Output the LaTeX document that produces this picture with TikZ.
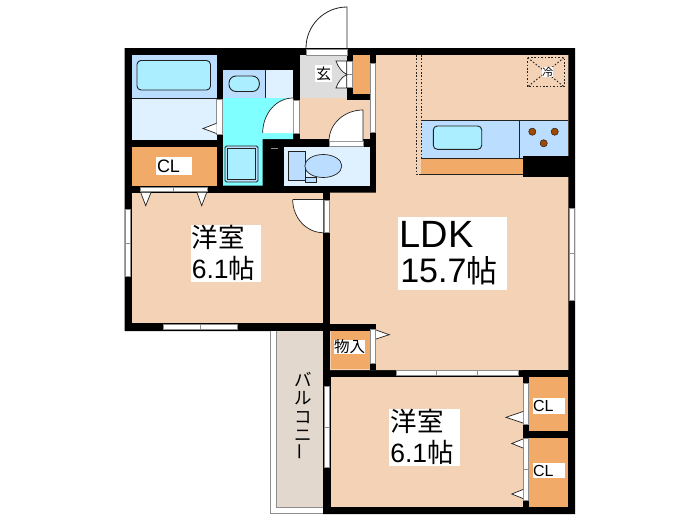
\documentclass[tikz,border=0pt]{standalone}
\usepackage{fontspec}
\usepackage{graphicx}
\setmainfont{Noto Sans CJK JP}
\newfontfamily\latinfont{Liberation Sans}
\definecolor{peach}{HTML}{F3D2B5}
\definecolor{closet}{HTML}{F2AA68}
\definecolor{wetcyan}{HTML}{7FFFFF}
\definecolor{paleblue}{HTML}{DFF0FF}
\definecolor{midblue}{HTML}{BBDDFF}
\definecolor{tubblue}{HTML}{AAEEFF}
\definecolor{entry}{HTML}{DDDDDD}
\definecolor{deck}{HTML}{E2D8CE}
\definecolor{frame}{HTML}{8C8C8C}
\definecolor{ink}{HTML}{222222}
\definecolor{burner}{HTML}{A04A00}
\tikzset{
  fixture/.style={draw=ink,line width=0.9pt},
  sash/.style={fill=white,draw=frame,line width=1pt},
  doorleaf/.style={fill=white,draw=ink,line width=0.7pt},
  tag/.style={fill=white,inner sep=0pt,text=black,align=left},
  dots/.style={draw=ink,line width=0.9pt,dash pattern=on 1.6pt off 1.8pt},
}
\begin{document}
\begin{tikzpicture}[x=1pt,y=-1pt]
\useasboundingbox (0,0) rectangle (700,525);
\fill[white] (0,0) rectangle (700,525);
% walls
\fill[black] (124.5,48) -- (575,48) -- (575,514) -- (323,514) -- (323,331) -- (124.5,331) -- cycle;
% balcony
\fill[white] (270,331) rectangle (323,514);
\draw[frame,line width=0.6pt] (270,331) -- (270,513.5) -- (323,513.5);
\fill[deck] (276.7,331) rectangle (323,507.3);
\draw[frame,line width=0.6pt] (276.7,331) -- (276.7,507.3) -- (323,507.3);
% bath
\fill[midblue] (132,55) rectangle (216.5,98);
\fill[paleblue] (132,98) rectangle (216.5,139.5);
\draw[ink,line width=0.5pt] (132,98) -- (216.5,98);
\draw[fixture,fill=tubblue,rounded corners=4pt] (137,60.5) rectangle (210.5,90);
% closet
\fill[closet] (132,146.7) rectangle (216.5,185.7);
% washroom
\fill[midblue] (223,70) rectangle (265.7,98);
\fill[paleblue] (265.7,70) rectangle (293,98);
\draw[ink,line width=0.6pt] (265.7,70) -- (265.7,98);
\draw[fixture,fill=tubblue,rounded corners=7pt] (229,76) rectangle (259.3,91.5);
\fill[wetcyan] (223,98) -- (293,98) -- (293,139) -- (262.7,139) -- (262.7,185.7) -- (223,185.7) -- cycle;
\draw[fixture,fill=midblue,rounded corners=1.5pt] (225,146) rectangle (258,182);
\draw[ink,line width=0.7pt,fill=tubblue] (227.5,148.5) rectangle (255.5,179.5);
% hall and entry
\fill[entry] (300,55) rectangle (347,97.5);
\fill[peach] (300,97.5) rectangle (346.7,139);
\fill[peach] (346.7,100) rectangle (370,139);
\fill[black] (363,140) rectangle (370,147);
% toilet
\fill[paleblue] (284.3,146.7) rectangle (370,185.7);
\draw[ink,line width=0.7pt,fill=midblue] (288.3,151.7) rectangle (305,180.7);
\draw[ink,line width=0.7pt,fill=midblue] (305.7,177.7) rectangle (316,182.7);
\draw[ink,line width=0.7pt,fill=midblue] (323.3,166) ellipse [x radius=18.5,y radius=11.5];
\fill[frame] (271,147.5) rectangle (278,148.5);
% bedroom 1
\fill[peach] (132,192.7) rectangle (323.3,323.3);
% LDK
\fill[peach] (376,55) -- (568.3,55) -- (568.3,370) -- (330,370) -- (330,192.7) -- (376,192.7) -- cycle;
% storage
\fill[black] (323,324) rectangle (376,330.7);
\fill[black] (370,330) rectangle (376,370);
\fill[closet] (330.7,330.7) rectangle (370,369.3);
% bedroom 2 and closets
\fill[peach] (330.7,376.7) rectangle (522.7,507.3);
\fill[closet] (529.3,376.7) rectangle (568.3,430.7);
\fill[closet] (529.3,438.3) rectangle (568.3,507.3);
\fill[black] (522.7,370) rectangle (575,376.7);
% shoe closet
\fill[closet] (353.3,55) rectangle (370,94);
% kitchen
\fill[midblue] (421,120) rectangle (568.3,158);
\draw[ink,line width=0.8pt] (421,120) -- (568.3,120);
\draw[ink,line width=0.8pt] (421,158) -- (523,158);
\draw[ink,line width=0.8pt] (519,120) -- (519,158);
\draw[fixture,fill=tubblue,rounded corners=4pt] (433.3,126) rectangle (481.7,149.3);
\foreach \bx/\by [count=\bi] in {532.3/131.7,554.7/131.7,543.7/143.3}
  \draw[ink,line width=0.5pt,fill=burner] (\bx,\by) circle (3.6);
\fill[closet] (421,159) rectangle (523,174);
\draw[ink,line width=0.8pt] (421,174) -- (523,174);
\fill[black] (522.7,155.7) rectangle (570,177.3);
\draw[dots] (416,55) -- (416,174) -- (421,174);
\draw[dots] (421.7,55) -- (421.7,159);
% fridge
\draw[dots] (527.7,57.7) rectangle (564,86.7);
\draw[dots] (527.7,57.7) -- (564,86.7);
\draw[dots] (564,57.7) -- (527.7,86.7);
\node[tag,font=\fontsize{11}{11}\selectfont] (reizo) at (547.5,72) {冷};
% windows and door sashes
\draw[sash] (306,49.6) rectangle (347,55);
\draw[sash] (346.7,61.7) rectangle (352,87);
\draw[frame,line width=0.5pt] (346.7,74) -- (352,74);
\draw[sash] (216.9,99) rectangle (222.5,134);
\draw[sash] (293.7,100) rectangle (299.1,133);
\draw[sash] (329,141.4) rectangle (363,146.3);
\draw[sash] (370.9,63) rectangle (375.8,132);
\draw[sash] (140,187) rectangle (173.7,191.8);
\draw[sash] (173.7,187) rectangle (207.7,191.8);
\draw[sash] (324.3,200) rectangle (329.1,232.7);
\draw[sash] (125,209.3) rectangle (130.8,243);
\draw[sash] (125,243) rectangle (130.8,276.7);
\draw[sash] (163,324.6) rectangle (200.5,329.8);
\draw[sash] (200.5,324.6) rectangle (237.7,329.8);
\draw[sash] (569.5,208) rectangle (574.8,253);
\draw[sash] (569.5,253) rectangle (574.8,300);
\draw[sash] (370.9,329.3) rectangle (375.8,363.3);
\draw[sash] (396,370.8) rectangle (436.7,375.8);
\draw[sash] (436.7,370.8) rectangle (477.3,375.8);
\draw[sash] (477.3,370.8) rectangle (518.3,375.8);
\draw[sash] (324.3,386) rectangle (329.8,427);
\draw[sash] (324.3,427) rectangle (329.8,467.3);
\draw[sash] (523.5,383.3) rectangle (528.5,424);
\draw[sash] (523.5,438.3) rectangle (528.5,469.3);
\draw[sash] (523.5,469.3) rectangle (528.5,500);
% door swings
\draw[ink,line width=0.8pt] (306,48) arc[start angle=180,end angle=270,radius=41] -- (347,48);
\fill[white] (293,98) -- (293,133) -- (262.7,133) arc[start angle=180,end angle=270,x radius=30.3,y radius=35] -- cycle;
\draw[ink,line width=0.7pt] (262.7,133) arc[start angle=180,end angle=270,x radius=30.3,y radius=35];
\fill[white] (363,110) -- (363,141) -- (329,141) arc[start angle=180,end angle=270,x radius=34,y radius=31] -- cycle;
\draw[ink,line width=0.7pt] (329,141) arc[start angle=180,end angle=270,x radius=34,y radius=31] -- (363,141);
\fill[white] (292.7,199.5) -- (323.3,199.5) -- (323.3,232.7) arc[start angle=90,end angle=180,x radius=30.6,y radius=33.2] -- cycle;
\draw[ink,line width=0.7pt] (292.7,199.5) -- (323.3,199.5);
\draw[ink,line width=0.7pt] (323.3,232.7) arc[start angle=90,end angle=180,x radius=30.6,y radius=33.2];
% shoe cupboard leaves
\draw[doorleaf] (346.7,61) -- (336,61) .. controls (338,67) and (342,72) .. (346.7,74.5) -- cycle;
\draw[doorleaf] (346.7,88) -- (336,88) .. controls (338,82) and (342,77) .. (346.7,74.5) -- cycle;
% closet door triangles
\draw[doorleaf] (140.7,192.5) -- (145.7,205.7) -- (151,192.5);
\draw[doorleaf] (197,192.5) -- (201.7,205.7) -- (206.7,192.5);
\draw[doorleaf] (216.5,123.3) -- (203,128.5) -- (216.5,133.5);
\draw[doorleaf] (376,330) -- (389.3,334.7) -- (376,339);
\draw[doorleaf] (523,411.5) -- (506,417.3) -- (523,423);
\draw[doorleaf] (523,439) -- (511.7,443.5) -- (523,448);
\draw[doorleaf] (523,489.5) -- (511.7,494) -- (523,498.5);
% labels
\node[tag,font=\fontsize{15}{15}\selectfont,minimum width=17pt,minimum height=17pt,align=center] (genkan) at (323.5,73.5) {玄};
\node[tag,minimum height=18.5pt,text width=36pt,font=\latinfont\fontsize{18}{18}\selectfont] (cl1) at (174,166) {\hspace{1pt}CL};
\node[tag,minimum height=56.7pt,text width=70.3pt,font=\fontsize{26.5}{31}\selectfont] (bed1) at (226,253.3) {\hspace{1pt}洋室\\\hspace{1pt}{\latinfont 6.1}帖};
\node[tag,minimum height=73.3pt,text width=109pt,font=\fontsize{31}{33}\selectfont] (ldk) at (452.8,253.3) {\hspace{1.5pt}{\latinfont\fontsize{38}{38}\selectfont LDK}\\[2pt]\hspace{2pt}{\latinfont\fontsize{34}{34}\selectfont 15.7}帖};
\node[tag,font=\fontsize{15.5}{15.5}\selectfont] (mono) at (349.5,347) {物入};
\node[tag,minimum height=56.7pt,text width=70.7pt,font=\fontsize{26.5}{31}\selectfont] (bed2) at (424.7,437.3) {\hspace{1.3pt}洋室\\\hspace{1pt}{\latinfont 6.1}帖};
\node[tag,minimum height=16.3pt,text width=32.3pt,font=\latinfont\fontsize{16}{16}\selectfont] (cl2) at (548.8,405.8) {\hspace{0.5pt}CL};
\node[tag,minimum height=15.6pt,text width=32.3pt,font=\latinfont\fontsize{16}{16}\selectfont] (cl3) at (548.8,470.5) {\hspace{0.5pt}CL};
\node[inner sep=0pt,align=center,text=black,font=\fontsize{17.5}{18.5}\selectfont] (balc) at (303,416) {バ\\ル\\コ\\ニ\\\rotatebox{90}{ー}};
\end{tikzpicture}
\end{document}
